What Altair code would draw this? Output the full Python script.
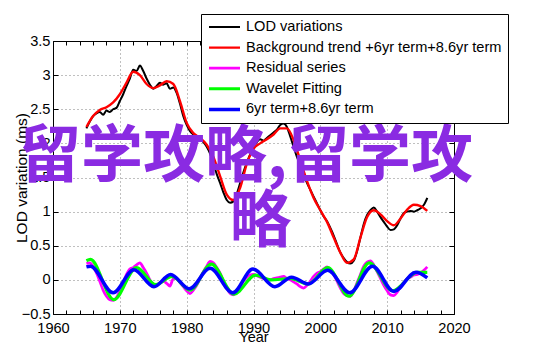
import altair as alt
import pandas as pd

# ---------------- data ----------------
series_names = ["LOD variations", "Background trend +6yr term+8.6yr term",
                "Residual series", "Wavelet Fitting", "6yr term+8.6yr term"]
series_colors = ["#000000", "#ff0000", "#ff00ff", "#00ff00", "#0000ff"]
series_widths = [2.0, 3.5, 2.0, 3.5, 3.5]

x_major = [1960, 1970, 1980, 1990, 2000, 2010, 2020]
x_minor = list(range(1960, 2021, 2))
y_major = [-0.5, 0, 0.5, 1, 1.5, 2, 2.5, 3, 3.5]

half_years = [1965 + i / 2 for i in range(103)]

lod_values = [
    2.22, 2.32, 2.40, 2.44, 2.46, 2.42, 2.48, 2.46, 2.50, 2.52,
    2.62, 2.72, 2.84, 2.95, 3.08, 3.06, 3.14, 3.06, 2.95, 2.86,
    2.80, 2.84, 2.89, 2.86, 2.88, 2.80, 2.82, 2.74, 2.58, 2.40,
    2.27, 2.18, 2.13, 2.10, 2.06, 2.02, 1.95, 1.85, 1.70, 1.55,
    1.42, 1.28, 1.17, 1.13, 1.15, 1.26, 1.42, 1.58, 1.72, 1.84,
    1.94, 2.02, 2.06, 2.04, 2.08, 2.12, 2.16, 2.20, 2.27, 2.29,
    2.24, 2.10, 1.95, 1.80, 1.68, 1.55, 1.42, 1.32, 1.22, 1.12,
    1.02, 0.93, 0.86, 0.76, 0.65, 0.52, 0.40, 0.32, 0.26, 0.24,
    0.28, 0.42, 0.62, 0.82, 0.95, 1.02, 1.06, 1.00, 0.92, 0.85,
    0.78, 0.73, 0.74, 0.80, 0.90, 0.98, 1.00, 1.01, 1.00, 1.02,
    1.05, 1.10, 1.20]

trend_years = list(range(1965, 2017))
trend_values = [
    2.24, 2.40, 2.49, 2.53, 2.60, 2.72, 2.89, 3.05, 3.00, 2.87,
    2.81, 2.85, 2.91, 2.87, 2.62, 2.30, 2.15, 2.08, 1.98, 1.80,
    1.52, 1.25, 1.17, 1.35, 1.70, 1.92, 2.00, 2.06, 2.13, 2.22,
    2.22, 2.05, 1.75, 1.45, 1.20, 1.02, 0.85, 0.62, 0.40, 0.25,
    0.30, 0.62, 0.92, 1.02, 0.96, 0.86, 0.80, 0.90, 1.03, 1.10,
    1.08, 1.01]

resid_values = [
    0.24, 0.25, 0.20, 0.10, -0.02, -0.15, -0.24, -0.29, -0.30, -0.26,
    -0.16, -0.04, 0.08, 0.16, 0.18, 0.22, 0.25, 0.18, 0.10, 0.00,
    -0.06, -0.08, -0.04, -0.02, -0.05, -0.09, 0.02, 0.02, -0.04, -0.10,
    -0.16, -0.20, -0.15, -0.08, 0.02, 0.12, 0.20, 0.27, 0.25, 0.18,
    0.10, -0.02, -0.12, -0.20, -0.22, -0.18, -0.10, -0.02, 0.04, 0.07,
    0.08, 0.06, 0.04, 0.02, 0.01, 0.00, 0.02, 0.03, 0.04, 0.05,
    0.02, 0.00, -0.03, -0.06, -0.10, -0.12, -0.08, -0.02, 0.05, 0.10,
    0.12, 0.16, 0.19, 0.15, 0.08, -0.02, -0.12, -0.20, -0.23, -0.24,
    -0.16, -0.04, 0.08, 0.20, 0.26, 0.28, 0.22, 0.12, 0.02, -0.08,
    -0.16, -0.22, -0.23, -0.18, -0.10, -0.04, 0.02, 0.04, 0.07, 0.08,
    0.10, 0.14, 0.19]

wave_years = [1965.0, 1965.6, 1969.1, 1972.5, 1975.4, 1977.8, 1980.5, 1983.7,
              1987.1, 1990.3, 1992.6, 1995.5, 1998.2, 2001.1, 2004.3, 2007.3,
              2010.8, 2014.5, 2016.0]
wave_values = [0.28, 0.30, -0.29, 0.18, -0.07, 0.05, -0.15, 0.23,
               -0.21, 0.07, 0.00, 0.02, -0.06, 0.18, -0.24, 0.25,
               -0.16, 0.11, 0.11]

term_years = [1965.0, 1965.6, 1969.0, 1972.1, 1975.1, 1977.6, 1980.4, 1983.5,
              1986.9, 1989.9, 1993.2, 1995.7, 1998.2, 2001.1, 2004.4, 2007.8,
              2011.0, 2014.3, 2016.0]
term_values = [0.19, 0.20, -0.19, 0.15, -0.10, 0.08, -0.13, 0.17,
               -0.19, 0.16, -0.10, 0.04, -0.06, 0.14, -0.19, 0.20,
               -0.17, 0.11, 0.03]

watermark_lines = ["留学攻略,留学攻", "略"]

# ---------------- build table ----------------
rows = []
for name, yrs, vals in [
    (series_names[0], half_years, lod_values),
    (series_names[1], trend_years, trend_values),
    (series_names[2], half_years, resid_values),
    (series_names[3], wave_years, wave_values),
    (series_names[4], term_years, term_values),
]:
    for yr, v in zip(yrs, vals):
        rows.append({"series": name, "year": yr, "val": v})
df = pd.DataFrame(rows)

W, H = 401, 273
FONT = "Liberation Sans"
FS = 14.6

xs = alt.Scale(domain=[1960, 2020], nice=False, zero=False)
ys = alt.Scale(domain=[-0.5, 3.5], nice=False, zero=False)

lines = alt.Chart(df).mark_line(interpolate="monotone").encode(
    x=alt.X("year:Q", scale=xs, axis=alt.Axis(
        values=x_major, format="d", labelFont=FONT, labelFontSize=FS,
        labelColor="black", labelPadding=6, labelFlush=False, ticks=False, tickSize=0,
        domain=True, domainColor="black", domainWidth=1,
        grid=True, gridColor="#808080", gridDash=[1, 3], gridWidth=1,
        title="Year", titleFont=FONT, titleFontSize=14.5, titleFontWeight="normal",
        titleColor="black", titleBaseline="alphabetic", titleY=27)),
    y=alt.Y("val:Q", scale=ys, axis=alt.Axis(
        values=y_major, format="~g", labelFont=FONT, labelFontSize=FS,
        labelColor="black", labelPadding=3, labelFlush=False, ticks=False, tickSize=0,
        domain=True, domainColor="black", domainWidth=1,
        grid=True, gridColor="#808080", gridDash=[1, 3], gridWidth=1,
        title="LOD variation (ms)", titleFont=FONT, titleFontSize=15.5,
        titleFontWeight="normal", titleColor="black", titleAngle=270,
        titleBaseline="bottom", titleAlign="center", titleX=-24, titleY=H / 2)),
    color=alt.Color("series:N", scale=alt.Scale(domain=series_names, range=series_colors),
                    legend=alt.Legend(
                        title=None, orient="none", legendX=148, legendY=-27,
                        direction="vertical", symbolType="stroke", symbolSize=961,
                        symbolStrokeWidth=3.5, clipHeight=14, labelFont=FONT,
                        labelFontSize=FS, labelColor="black", labelLimit=600,
                        labelOffset=4, strokeColor="black", fillColor="white",
                        padding=6, rowPadding=5.6, cornerRadius=0)),
    strokeWidth=alt.StrokeWidth("series:N", scale=alt.Scale(domain=series_names, range=series_widths),
                                legend=None),
)

bounds = pd.DataFrame({"year": [1960, 2020], "val": [-0.5, 3.5]})

ticks_a = alt.Chart(bounds).mark_point(opacity=0).encode(
    x=alt.X("year:Q", scale=xs, axis=alt.Axis(
        orient="top", offset=-H, values=x_minor, labels=False, domain=False,
        grid=False, ticks=True, tickSize=4, tickColor="black", title=None)),
    y=alt.Y("val:Q", scale=ys, axis=alt.Axis(
        orient="right", offset=-W, values=y_major, labels=False, domain=False,
        grid=False, ticks=True, tickSize=5, tickColor="black", title=None)),
)
ticks_b = alt.Chart(bounds).mark_point(opacity=0).encode(
    x=alt.X("year:Q", scale=xs, axis=alt.Axis(
        orient="bottom", offset=-H, values=x_minor, labels=False, domain=True,
        domainColor="black", grid=False, ticks=True, tickSize=4,
        tickColor="black", title=None)),
    y=alt.Y("val:Q", scale=ys, axis=alt.Axis(
        orient="left", offset=-W, values=y_major, labels=False, domain=True,
        domainColor="black", grid=False, ticks=True, tickSize=5,
        tickColor="black", title=None)),
)

wm_style = dict(font="Noto Sans CJK SC", fontWeight="bold", fontSize=62,
                color="#8a2be2", align="center", baseline="alphabetic")
wm1 = alt.Chart(pd.DataFrame({"t": [watermark_lines[0]]})).mark_text(**wm_style).encode(
    text="t:N", x=alt.value(193), y=alt.value(136))
wm2 = alt.Chart(pd.DataFrame({"t": [watermark_lines[1]]})).mark_text(**wm_style).encode(
    text="t:N", x=alt.value(207.5), y=alt.value(201))

chart = alt.layer(lines, ticks_a, ticks_b, wm1, wm2).resolve_axis(
    x="independent", y="independent"
).properties(
    width=W, height=H,
    autosize=alt.AutoSizeParams(type="none"),
    padding={"left": 45, "top": 33, "right": 80, "bottom": 30},
    background="white",
).configure_view(stroke=None)

chart.save("out.html", embed_options={"renderer": "svg", "actions": False})
